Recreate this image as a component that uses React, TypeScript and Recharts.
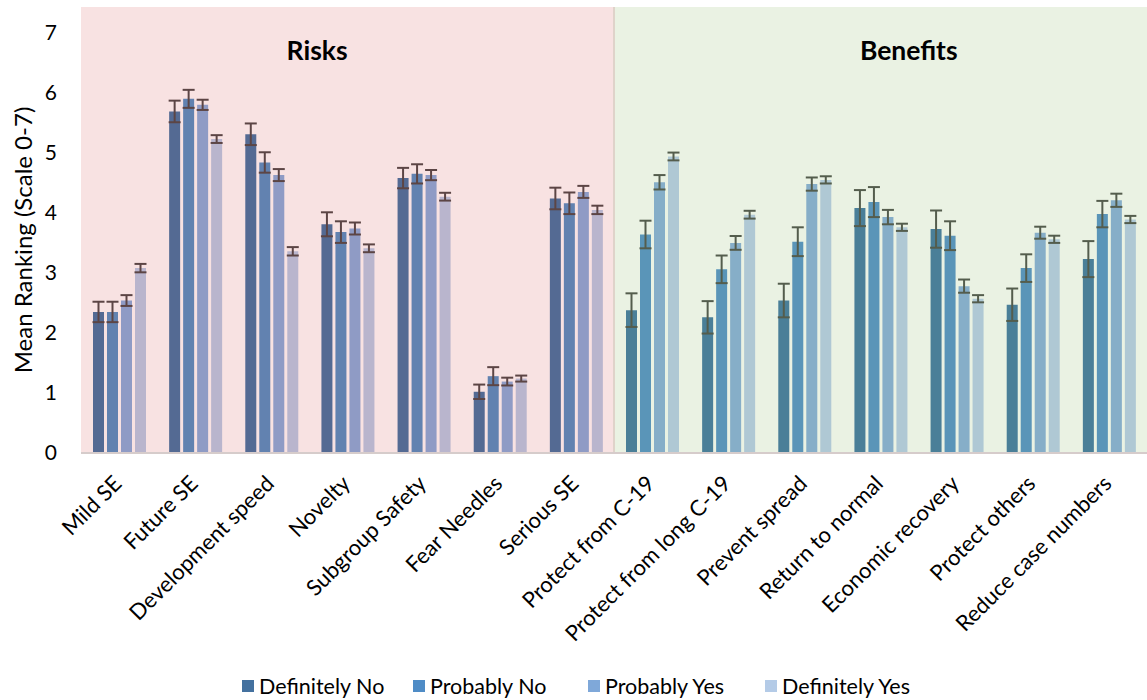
import React from 'react';
import { BarChart, Bar, XAxis, YAxis, ErrorBar, ReferenceArea, ReferenceLine } from 'recharts';

const categories = [
  'Mild SE', 'Future SE', 'Development speed', 'Novelty', 'Subgroup Safety', 'Fear Needles', 'Serious SE',
  'Protect from C-19', 'Protect from long C-19', 'Prevent spread', 'Return to normal', 'Economic recovery',
  'Protect others', 'Reduce case numbers',
];
const riskCount = 7;
const seriesNames = ['Definitely No', 'Probably No', 'Probably Yes', 'Definitely Yes'];

const definitelyNo = [2.35, 5.69, 5.31, 3.81, 4.58, 1.02, 4.24, 2.38, 2.26, 2.54, 4.08, 3.73, 2.47, 3.23];
const probablyNo = [2.35, 5.90, 4.84, 3.68, 4.65, 1.28, 4.16, 3.64, 3.06, 3.52, 4.18, 3.62, 3.08, 3.98];
const probablyYes = [2.54, 5.80, 4.63, 3.74, 4.63, 1.19, 4.35, 4.51, 3.50, 4.48, 3.93, 2.78, 3.67, 4.21];
const definitelyYes = [3.08, 5.23, 3.36, 3.41, 4.27, 1.24, 4.05, 4.94, 3.97, 4.55, 3.76, 2.57, 3.56, 3.89];

const errDefinitelyNo = [0.17, 0.18, 0.18, 0.2, 0.17, 0.12, 0.18, 0.28, 0.27, 0.28, 0.3, 0.31, 0.27, 0.3];
const errProbablyNo = [0.17, 0.15, 0.17, 0.18, 0.16, 0.15, 0.18, 0.23, 0.23, 0.24, 0.25, 0.24, 0.23, 0.22];
const errProbablyYes = [0.09, 0.085, 0.1, 0.1, 0.085, 0.065, 0.1, 0.12, 0.115, 0.11, 0.12, 0.11, 0.1, 0.11];
const errDefinitelyYes = [0.07, 0.065, 0.07, 0.065, 0.065, 0.05, 0.07, 0.065, 0.065, 0.06, 0.06, 0.06, 0.06, 0.06];

const yTicks = [0, 1, 2, 3, 4, 5, 6, 7];
const yMax = 7.43;

const riskColors = ['#546a93', '#6282b0', '#8f9bc5', '#b9b5cd'];
const benefitColors = ['#4a7f98', '#5a95b8', '#86aec8', '#afc8d4'];
const legendColors = ['#44719f', '#4f8cc6', '#7fa8d9', '#b4cbe7'];
const riskErrColor = '#5c4545';
const benefitErrColor = '#545d4d';

const values = [definitelyNo, probablyNo, probablyYes, definitelyYes];
const errors = [errDefinitelyNo, errProbablyNo, errProbablyYes, errDefinitelyYes];

const data = categories.map((name, i) => {
  const row: Record<string, any> = { name };
  values.forEach((vals, s) => {
    const isRisk = i < riskCount;
    row[`r${s}`] = isRisk ? vals[i] : null;
    row[`r${s}e`] = isRisk ? errors[s][i] : null;
    row[`b${s}`] = isRisk ? null : vals[i];
    row[`b${s}e`] = isRisk ? null : errors[s][i];
  });
  return row;
});

const FONT = 'Lato, "Open Sans", sans-serif';

const CategoryTick = (props: any) => {
  const { x, y, payload } = props;
  return (
    <g transform={`translate(${x + 4},${y + 24})`}>
      <text x={0} y={0} textAnchor="end" transform="rotate(-45)" fontSize={22} fontFamily={FONT} fill="#000">
        {payload.value}
      </text>
    </g>
  );
};

const TitleLabel = (props: any) => {
  const { viewBox, text, frac } = props;
  if (!viewBox) return null;
  return (
    <text x={viewBox.x + viewBox.width * frac} y={60} textAnchor="middle" fontSize={26.5} fontWeight="bold" fontFamily={FONT} fill="#000">
      {text}
    </text>
  );
};

const YLabel = () => {
  const cy = 240;
  return (
    <text x={22} y={cy} transform={`rotate(-90, 22, ${cy})`} textAnchor="middle" dominantBaseline="central" fontSize={24} fontFamily={FONT} fill="#000">
      Mean Ranking (Scale 0-7)
    </text>
  );
};

export default function App() {
  const bars: any[] = [];
  for (let s = 0; s < 4; s++) {
    bars.push(
      <Bar key={`r${s}`} dataKey={`r${s}`} name={seriesNames[s]} stackId={`s${s}`} fill={riskColors[s]} isAnimationActive={false}>
        <ErrorBar dataKey={`r${s}e`} width={6} strokeWidth={2} stroke={riskErrColor} isAnimationActive={false} />
      </Bar>
    );
    bars.push(
      <Bar key={`b${s}`} dataKey={`b${s}`} name={seriesNames[s]} stackId={`s${s}`} fill={benefitColors[s]} isAnimationActive={false}>
        <ErrorBar dataKey={`b${s}e`} width={6} strokeWidth={2} stroke={benefitErrColor} isAnimationActive={false} />
      </Bar>
    );
  }
  return (
    <div style={{ position: 'absolute', left: 0, top: 0, width: 1147, height: 700, background: '#fff' }}>
      <BarChart
        width={1147}
        height={700}
        data={data}
        margin={{ top: 7, right: 0, bottom: 7, left: 0 }}
        barSize={11}
        barGap={3}
      >
        <ReferenceArea
          x1={categories[0]}
          x2={categories[riskCount - 1]}
          y1={0}
          y2={yMax}
          fill="#f8e2e2"
          fillOpacity={1}
          stroke="none"
          label={<TitleLabel text="Risks" frac={0.443} />}
        />
        <ReferenceArea
          x1={categories[riskCount]}
          x2={categories[categories.length - 1]}
          y1={0}
          y2={yMax}
          fill="#eaf2e3"
          fillOpacity={1}
          stroke="none"
          label={<TitleLabel text="Benefits" frac={0.553} />}
        />
        <ReferenceLine x={categories[riskCount - 1]} position="end" stroke="#dfd3ca" strokeWidth={2} />
        <XAxis
          dataKey="name"
          interval={0}
          tickLine={false}
          axisLine={{ stroke: '#d6cccb', strokeWidth: 2 }}
          height={240}
          tick={<CategoryTick />}
        />
        <YAxis
          domain={[0, yMax]}
          ticks={yTicks}
          width={81}
          axisLine={false}
          tickLine={false}
          tickMargin={18}
          tick={{ fontSize: 21, fontFamily: FONT, fill: '#000' }}
          label={<YLabel />}
        />
        {bars}
      </BarChart>
      {seriesNames.map((n, i) => (
        <div
          key={n}
          style={{
            position: 'absolute',
            left: [242, 413, 588, 765][i],
            top: 673,
            display: 'flex',
            alignItems: 'center',
            fontFamily: FONT,
            fontSize: 21.5,
            lineHeight: '26px',
            color: '#000',
            whiteSpace: 'nowrap',
          }}
        >
          <span style={{ display: 'inline-block', width: 12, height: 12, background: legendColors[i], marginRight: 5 }} />
          <span>{n}</span>
        </div>
      ))}
    </div>
  );
}
